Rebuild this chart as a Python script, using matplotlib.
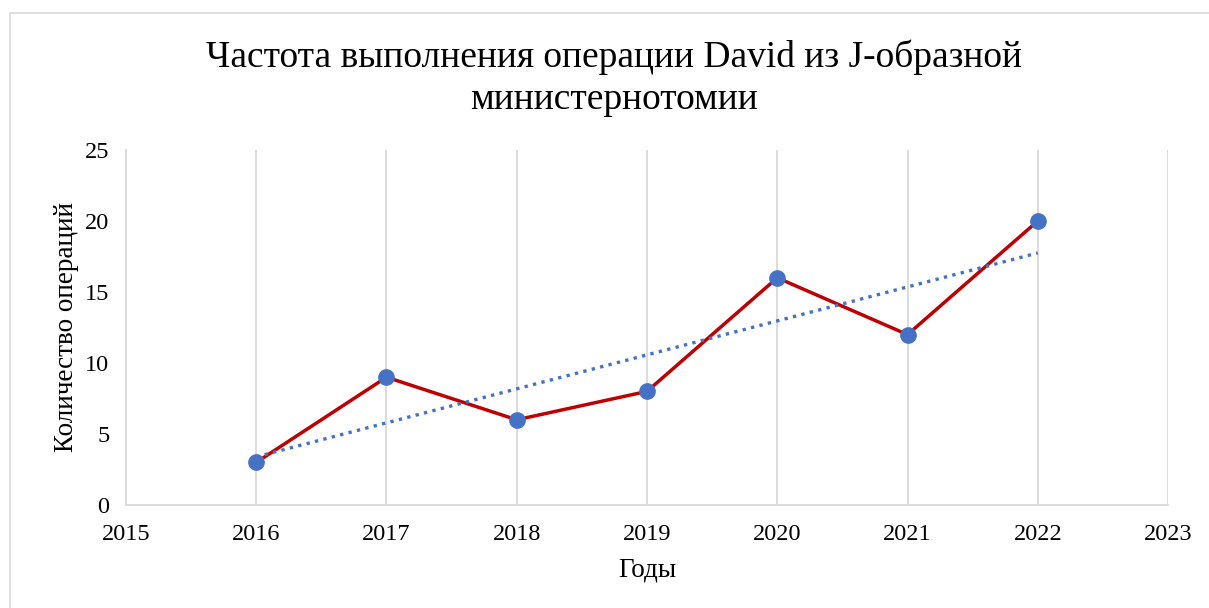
import numpy as np
import matplotlib
matplotlib.use("Agg")
import matplotlib.pyplot as plt
from matplotlib.patches import Rectangle

years = [2016, 2017, 2018, 2019, 2020, 2021, 2022]
operations = [3, 9, 6, 8, 16, 12, 20]

plt.rcParams["font.family"] = ["Liberation Serif", "DejaVu Serif"]

fig = plt.figure(figsize=(12.09, 6.08), dpi=100)
# chart frame (runs past the right and bottom edges)
fig.patches.append(Rectangle((10 / 1209, -0.1), 1.2, 1.1 - 13 / 608,
                             transform=fig.transFigure, fill=False,
                             edgecolor="#d9d9d9", linewidth=1.2))

ax = fig.add_axes([0.1042, 0.1694, 0.8619, 0.5839])

x = np.array(years, dtype=float)
y = np.array(operations, dtype=float)

# linear trend
k, b = np.polyfit(x, y, 1)
ax.plot(x, k * x + b, linestyle=(0, (1, 1.6)), color="#4472C4",
        linewidth=2.4, zorder=4)

ax.plot(x, y, color="#C00000", linewidth=2.5, zorder=3)
ax.plot(x, y, "o", color="#4472C4", markersize=11, zorder=5)

ax.set_xlim(2015, 2023)
ax.set_ylim(0, 25)
ax.set_xticks(range(2015, 2024))
ax.set_yticks(range(0, 26, 5))
ax.grid(axis="x", color="#d9d9d9", linewidth=1.3)
ax.set_axisbelow(True)

for s in ["top", "right"]:
    ax.spines[s].set_visible(False)
for s in ["left", "bottom"]:
    ax.spines[s].set_color("#d9d9d9")
    ax.spines[s].set_linewidth(1.3)

ax.tick_params(length=0, labelsize=17.5)
ax.tick_params(axis="x", pad=14)
ax.tick_params(axis="y", pad=12)

ax.set_xlabel("Годы", fontsize=19.5, labelpad=9)
ax.set_ylabel("Количество операций", fontsize=19.5, labelpad=4)

fig.text(0.508, 0.935, "Частота выполнения операции David из J-образной\nминистернотомии",
         ha="center", va="top", fontsize=27, linespacing=1.28)

fig.savefig("out.png", dpi=100)
